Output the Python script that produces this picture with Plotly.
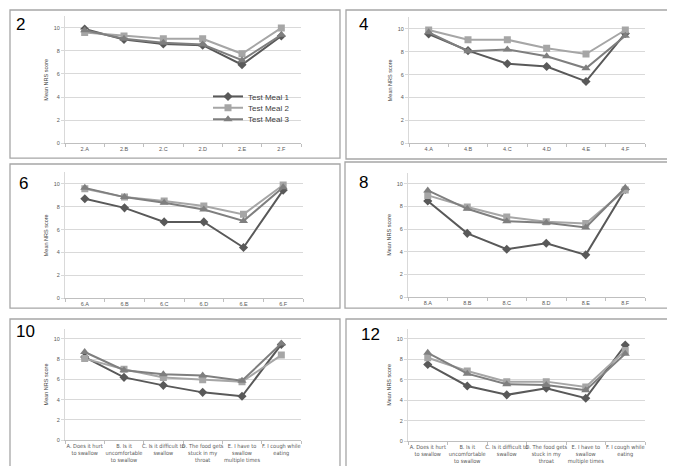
import plotly.graph_objects as go

W, H = 675, 466

weeks = ["2", "4", "6", "8", "10", "12"]
series_names = ["Test Meal 1", "Test Meal 2", "Test Meal 3"]

cats_wk2 = ["2.A", "2.B", "2.C", "2.D", "2.E", "2.F"]
cats_wk4 = ["4.A", "4.B", "4.C", "4.D", "4.E", "4.F"]
cats_wk6 = ["6.A", "6.B", "6.C", "6.D", "6.E", "6.F"]
cats_wk8 = ["8.A", "8.B", "8.C", "8.D", "8.E", "8.F"]
cats_long = [
    "A. Does it hurt<br>to swallow",
    "B. Is it<br>uncomfortable<br>to swallow",
    "C. Is it difficult to<br>swallow",
    "D. The food gets<br>stuck in my<br>throat",
    "E. I have to<br>swallow<br>multiple times",
    "F. I cough while<br>eating",
]

meal1_wk2 = [9.9, 9.0, 8.6, 8.5, 6.8, 9.3]
meal2_wk2 = [9.6, 9.3, 9.05, 9.05, 7.75, 10.0]
meal3_wk2 = [9.8, 9.05, 8.7, 8.55, 7.2, 9.4]

meal1_wk4 = [9.55, 8.1, 6.95, 6.7, 5.4, 9.6]
meal2_wk4 = [9.9, 9.05, 9.05, 8.3, 7.8, 9.9]
meal3_wk4 = [9.7, 8.05, 8.2, 7.6, 6.55, 9.4]

meal1_wk6 = [8.7, 7.9, 6.67, 6.67, 4.43, 9.45]
meal2_wk6 = [9.57, 8.84, 8.5, 8.06, 7.33, 9.9]
meal3_wk6 = [9.65, 8.84, 8.35, 7.75, 6.75, 9.7]

meal1_wk8 = [8.48, 5.63, 4.23, 4.75, 3.73, 9.5]
meal2_wk8 = [8.98, 7.96, 7.08, 6.65, 6.5, 9.45]
meal3_wk8 = [9.42, 7.8, 6.7, 6.56, 6.15, 9.65]

meal1_wk10 = [8.2, 6.2, 5.41, 4.72, 4.33, 9.45]
meal2_wk10 = [8.05, 7.0, 6.19, 5.96, 5.77, 8.4]
meal3_wk10 = [8.7, 6.9, 6.5, 6.38, 5.86, 9.54]

meal1_wk12 = [7.5, 5.4, 4.53, 5.18, 4.2, 9.4]
meal2_wk12 = [8.16, 6.86, 5.82, 5.82, 5.3, 8.87]
meal3_wk12 = [8.64, 6.6, 5.57, 5.5, 4.98, 8.54]

y_ticks = [0, 2, 4, 6, 8, 10]

panels = [
    (cats_wk2, [meal1_wk2, meal2_wk2, meal3_wk2]),
    (cats_wk4, [meal1_wk4, meal2_wk4, meal3_wk4]),
    (cats_wk6, [meal1_wk6, meal2_wk6, meal3_wk6]),
    (cats_wk8, [meal1_wk8, meal2_wk8, meal3_wk8]),
    (cats_long, [meal1_wk10, meal2_wk10, meal3_wk10]),
    (cats_long, [meal1_wk12, meal2_wk12, meal3_wk12]),
]

# layout geometry (pixels)
plot_boxes = [  # x0, x1, ytop, ybottom
    (57, 293, 8.4, 136),
    (401, 637, 9.5, 136),
    (57, 295, 165.5, 292),
    (400, 637, 165.6, 291),
    (57, 293, 322.8, 435),
    (400, 637, 322.7, 436),
]
frames = [  # x0, x1, ytop, ybottom
    (2, 332, 2, 151),
    (338, 672, 2, 152),
    (2, 332, 157, 302),
    (337, 671, 155, 302),
    (2, 332, 313, 465),
    (338, 667, 313, 464),
]
label_pos = [(6, 5), (349, 5), (9, 165), (349, 164), (6, 314), (351, 317)]

colors = ["#595959", "#a6a6a6", "#7f7f7f"]
symbols = ["diamond", "square", "triangle-up"]
msizes = [7, 7, 8]
legends = ["legend", "legend2", "legend3"]

FONT = "Liberation Sans"
NARROW = "Liberation Sans Narrow, DejaVu Sans Condensed, Liberation Sans"

fig = go.Figure()
layout = dict(
    width=W, height=H,
    margin=dict(l=0, r=0, t=0, b=0),
    paper_bgcolor="white", plot_bgcolor="white",
    font=dict(family=FONT, color="#595959"),
    shapes=[], annotations=[],
)

for i, (cats, series) in enumerate(panels):
    n = "" if i == 0 else str(i + 1)
    xa, ya = "x" + n, "y" + n
    for s, vals in enumerate(series):
        fig.add_trace(go.Scatter(
            x=cats, y=vals, name=series_names[s],
            mode="lines+markers",
            line=dict(color=colors[s], width=2),
            marker=dict(symbol=symbols[s], size=msizes[s], color=colors[s]),
            xaxis=xa, yaxis=ya,
            showlegend=(i == 0),
            legend=legends[s],
        ))
    x0, x1, yt, yb = plot_boxes[i]
    long_labels = i >= 4
    layout["xaxis" + n] = dict(
        domain=[x0 / W, x1 / W], anchor=ya,
        type="category", range=[-0.5, 5.5],
        showline=True, linecolor="#bfbfbf", linewidth=1,
        ticks="outside", tickson="boundaries", ticklen=3, tickcolor="#bfbfbf",
        showgrid=False,
        tickfont=dict(size=5.6 if long_labels else 5.5, color="#595959",
                      family=NARROW if long_labels else FONT),
        tickangle=0, fixedrange=True,
    )
    layout["yaxis" + n] = dict(
        domain=[1 - yb / H, 1 - yt / H], anchor=xa,
        range=[0, 11], tickvals=y_ticks,
        showline=True, linecolor="#d9d9d9", linewidth=1,
        ticks="outside", ticklen=3, tickcolor="#d9d9d9",
        showgrid=True, gridcolor="#d9d9d9", gridwidth=1,
        zeroline=False,
        tickfont=dict(size=5.5, color="#595959", family=FONT),
        title=dict(text="Mean NRS score", font=dict(size=5.5, color="#404040", family=FONT), standoff=4),
        fixedrange=True,
    )
    fx0, fx1, fyt, fyb = frames[i]
    layout["shapes"].append(dict(
        type="rect", xref="paper", yref="paper",
        x0=fx0 / W, x1=fx1 / W, y0=1 - fyb / H, y1=1 - fyt / H,
        line=dict(color="#a6a6a6", width=1.3), fillcolor="rgba(0,0,0,0)", layer="below",
    ))
    lx, ly = label_pos[i]
    layout["annotations"].append(dict(
        text=weeks[i], xref="paper", yref="paper", x=lx / W, y=1 - ly / H,
        xanchor="left", yanchor="top", showarrow=False,
        font=dict(size=17, color="#000000", family=FONT),
    ))

legend_ys = [89, 100.5, 112]
for s in range(3):
    layout[legends[s]] = dict(
        x=200 / W, y=1 - legend_ys[s] / H, xanchor="left", yanchor="middle",
        bgcolor="rgba(0,0,0,0)", borderwidth=0,
        font=dict(size=8, color="#404040", family=FONT),
        itemwidth=30, tracegroupgap=0,
    )

fig.update_layout(**layout)
fig.write_html("out.html")
